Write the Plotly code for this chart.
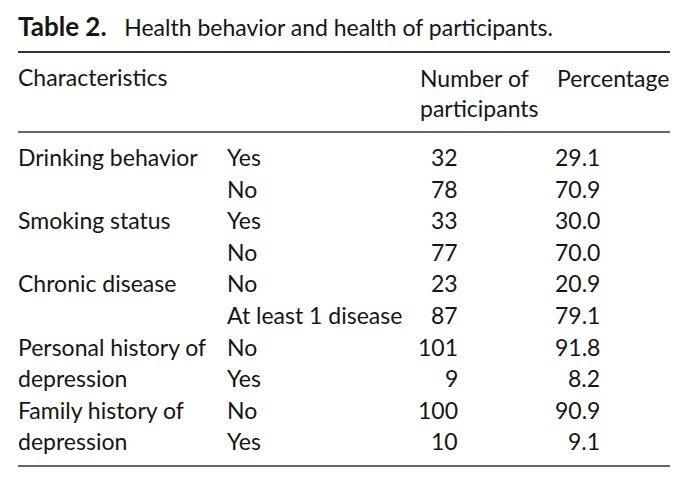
import textwrap
import plotly.graph_objects as go

# ---- data ----
table_label = "Table 2."
table_title = "Health behavior and health of participants."
col_headers = ["Characteristics", "Number of participants", "Percentage"]
characteristics = ["Drinking behavior", "Smoking status", "Chronic disease",
                   "Personal history of depression", "Family history of depression"]
levels = [["Yes", "No"], ["Yes", "No"], ["No", "At least 1 disease"],
          ["No", "Yes"], ["No", "Yes"]]
counts = [[32, 78], [33, 77], [23, 87], [101, 9], [100, 10]]
percents = [[29.1, 70.9], [30.0, 70.0], [20.9, 79.1], [91.8, 8.2], [90.9, 9.1]]

# ---- layout constants (pixels, in window coordinates) ----
W, H = 688, 486
PAGE_MARGIN = 8  # default body margin of the html page
FONT = "Lato, 'Open Sans', sans-serif"
FS = 23
TXT = "#151515"
RULE = "#333333"
X_LEFT, X_RIGHT = 18, 670
X_LEVEL = 227
X_COUNT_R = 458
X_HDR_COUNT = 420
X_PCT_R = 600
X_HDR_PCT = 557
ROW0_BASE = 165
PITCH = 31.6
MID = 8  # baseline -> annotation centre offset

fig = go.Figure()

annotations = []


def add_text(x, base, text, anchor="left", size=FS):
    annotations.append(dict(
        x=x, y=base - MID, xref="x", yref="y", text=text,
        showarrow=False, xanchor=anchor, yanchor="middle", borderpad=0,
        font=dict(family=FONT, size=size, color=TXT),
    ))


# title
add_text(X_LEFT - 1, 34,
         f"<span style='font-size:26px'><b>{table_label}</b></span>"
         f"\u00a0\u00a0\u00a0{table_title}")

# headers
add_text(X_LEFT - 1, 85, col_headers[0])
hdr_lines = textwrap.wrap(col_headers[1], 12)
for j, line in enumerate(hdr_lines):
    add_text(X_HDR_COUNT - 1, 86 + 30 * j, line)
add_text(X_HDR_PCT - 1, 86, col_headers[2])

# body
row = 0
for i, name in enumerate(characteristics):
    name_lines = textwrap.wrap(name, 19)
    for j, line in enumerate(name_lines):
        add_text(X_LEFT - 1, ROW0_BASE + PITCH * (row + j), line)
    for k, lev in enumerate(levels[i]):
        base = ROW0_BASE + PITCH * (row + k)
        add_text(X_LEVEL - 1, base, lev)
        add_text(X_COUNT_R + 1, base, str(counts[i][k]), anchor="right")
        add_text(X_PCT_R + 1, base, f"{percents[i][k]:.1f}", anchor="right")
    row += len(levels[i])

# rules
shapes = []
for y, w in [(52, 2), (132, 1.6), (466, 1.6)]:
    shapes.append(dict(type="line", xref="x", yref="y", x0=X_LEFT, x1=X_RIGHT,
                       y0=y, y1=y, line=dict(color=RULE, width=w)))

fig.update_layout(
    width=W - PAGE_MARGIN, height=H - PAGE_MARGIN,
    margin=dict(l=0, r=0, t=0, b=0),
    paper_bgcolor="white", plot_bgcolor="white",
    xaxis=dict(range=[PAGE_MARGIN, W], visible=False, fixedrange=True),
    yaxis=dict(range=[H, PAGE_MARGIN], visible=False, fixedrange=True),
    annotations=annotations, shapes=shapes, showlegend=False,
)

fig.write_html("out.html")
